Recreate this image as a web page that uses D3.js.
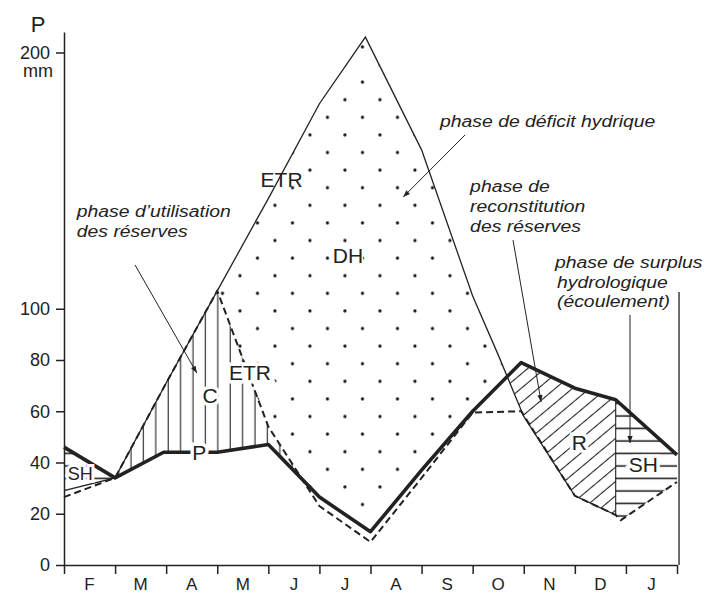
<!DOCTYPE html>
<html>
<head>
<meta charset="utf-8">
<script src="https://cdn.jsdelivr.net/npm/d3@7"></script>
<style>
body { margin: 0; background: #fff; }
svg { display: block; font-family: "Liberation Sans", Arial, sans-serif; }
</style>
</head>
<body>
<svg width="704" height="596"></svg>
<script>
// months of the hydrological year (labels sit between ticks)
var months = ["F", "M", "A", "M", "J", "J", "A", "S", "O", "N", "D", "J"];
var yTicks = [0, 20, 40, 60, 80, 100, 200];

// P : precipitation (thick line), position in months from start of F
var pX = [0, 1, 1.95, 3, 4, 5, 6, 7, 8, 8.95, 10, 10.8, 12];
var pV = [46, 34, 44, 44, 47, 26.5, 13, 37, 60, 79, 69, 64.5, 43];

// ETP : potential evapotranspiration (thin line)
var etpX = [0, 1, 2, 3, 4, 5, 5.9, 7, 8, 8.5, 9, 10, 10.8];
var etpV = [29, 34, 71, 107, 143, 180, 206, 162, 105, 82, 58, 27, 19.5];

// ETR : real evapotranspiration (dashed line)
var etrX = [0, 1, 2, 3, 4, 5, 6, 7, 8, 8.95, 10, 10.8, 10.9, 12];
var etrV = [26.5, 34, 71, 107, 54, 23, 9, 34, 59.5, 60, 27, 19.5, 17.5, 32.4];

var svg = d3.select("svg"),
    x = d3.scaleLinear().domain([0, 12]).range([64, 677]),
    y = d3.scaleLinear().domain([0, 208]).range([565, 32]),
    ink = "#222";

function interp(xs, vs, t) {
  if (t < xs[0]) return vs[0];
  if (t >= xs[xs.length - 1]) return vs[vs.length - 1];
  var i = d3.bisectRight(xs, t);
  var a = xs[i - 1], b = xs[i];
  return vs[i - 1] + (vs[i] - vs[i - 1]) * (t - a) / (b - a);
}
var P = function(t) { return interp(pX, pV, t); },
    ETP = function(t) { return interp(etpX, etpV, t); },
    ETR = function(t) { return interp(etrX, etrV, t); };

// area between two curves, empty where top falls under bottom
function band(top, bot, x0, x1) {
  var ts = d3.range(x0, x1, 0.01).concat([x1]);
  return d3.area()
    .x(function(t) { return x(t); })
    .y0(function(t) { return y(bot(t)); })
    .y1(function(t) { return y(Math.max(top(t), bot(t))); })(ts);
}

var defs = svg.append("defs");

var ph = defs.append("pattern").attr("id", "hatchH")
    .attr("patternUnits", "userSpaceOnUse")
    .attr("x", 0).attr("y", 447.5).attr("width", 10).attr("height", 12.5);
ph.append("path").attr("d", "M0,6H10").attr("stroke", ink).attr("stroke-width", 1.6);

var pv = defs.append("pattern").attr("id", "hatchV")
    .attr("patternUnits", "userSpaceOnUse")
    .attr("x", 125).attr("y", 0).attr("width", 12.4).attr("height", 10);
pv.append("path").attr("d", "M6,0V10").attr("stroke", ink).attr("stroke-width", 1.1);

var pd = defs.append("pattern").attr("id", "hatchD")
    .attr("patternUnits", "userSpaceOnUse")
    .attr("width", 10).attr("height", 11)
    .attr("patternTransform", "rotate(-40)");
pd.append("path").attr("d", "M0,5.5H10").attr("stroke", ink).attr("stroke-width", 1.1);

var pdot = defs.append("pattern").attr("id", "dots")
    .attr("patternUnits", "userSpaceOnUse")
    .attr("x", 240 - 8.75).attr("y", 275.7 - 8.8).attr("width", 35).attr("height", 35.2);
pdot.append("circle").attr("cx", 8.75).attr("cy", 8.8).attr("r", 1.6).attr("fill", "#111");
pdot.append("circle").attr("cx", 26.25).attr("cy", 26.4).attr("r", 1.6).attr("fill", "#111");

defs.append("marker").attr("id", "arrow")
    .attr("viewBox", "-8 -4 9 8").attr("refX", 0).attr("refY", 0)
    .attr("markerWidth", 9).attr("markerHeight", 8)
    .attr("markerUnits", "userSpaceOnUse").attr("orient", "auto")
  .append("path").attr("d", "M0,0L-7,-2.6L-7,2.6Z").attr("fill", ink);

// shaded phases
var fills = svg.append("g");
fills.append("path").attr("d", band(P, ETP, 0, 1)).attr("fill", "url(#hatchH)");
fills.append("path").attr("d", band(ETR, P, 1, 4.6)).attr("fill", "url(#hatchV)");
fills.append("path").attr("d", band(ETP, function(t) { return Math.max(P(t), ETR(t)); }, 2, 9))
    .attr("fill", "url(#dots)");
fills.append("path").attr("d", band(P, ETP, 8.5, 10.8)).attr("fill", "url(#hatchD)");
fills.append("path").attr("d", band(P, ETR, 10.8, 12)).attr("fill", "url(#hatchH)");

// separation R / SH
fills.append("line")
    .attr("x1", x(10.8)).attr("x2", x(10.8))
    .attr("y1", y(P(10.8))).attr("y2", y(ETR(10.8)))
    .attr("stroke", ink).attr("stroke-width", 1.1);

var line = function(xs, vs) {
  return d3.line().x(function(d, i) { return x(xs[i]); }).y(function(d) { return y(d); })(vs);
};

svg.append("path").attr("d", line(etpX, etpV))
    .attr("fill", "none").attr("stroke", ink).attr("stroke-width", 1.3);
svg.append("path").attr("d", line(etrX, etrV))
    .attr("fill", "none").attr("stroke", ink).attr("stroke-width", 2)
    .attr("stroke-dasharray", "7,4");
svg.append("path").attr("d", line(pX, pV))
    .attr("fill", "none").attr("stroke", ink).attr("stroke-width", 3.6)
    .attr("stroke-linejoin", "round");

// axes
var yAxis = svg.append("g")
    .attr("transform", "translate(" + x(0) + ",0)")
    .call(d3.axisLeft(y).tickValues(yTicks).tickSize(8).tickPadding(6).tickSizeOuter(0));
yAxis.attr("font-family", null).attr("font-size", 18);
yAxis.selectAll("path, line").attr("stroke", ink).attr("stroke-width", 1.5);
yAxis.selectAll("text").attr("fill", "#222");

var xAxis = svg.append("g")
    .attr("transform", "translate(0," + y(0) + ")")
    .call(d3.axisBottom(x).tickValues(d3.range(13)).tickSize(9).tickFormat("").tickSizeOuter(0));
xAxis.selectAll("path, line").attr("stroke", ink).attr("stroke-width", 1.5);

svg.selectAll(".month")
    .data(months)
  .enter().append("text")
    .attr("class", "month")
    .attr("x", function(d, i) { return x(i + 0.5); })
    .attr("y", 590)
    .attr("text-anchor", "middle")
    .attr("font-size", 17)
    .attr("fill", "#222")
    .text(function(d) { return d; });

svg.append("text").attr("x", x(0) - 26).attr("y", 32).attr("text-anchor", "middle")
    .attr("font-size", 22).attr("fill", "#222").text("P");
svg.append("text").attr("x", x(0) - 26).attr("y", 77).attr("text-anchor", "middle")
    .attr("font-size", 18).attr("fill", "#222").text("mm");

// right frame
svg.append("line")
    .attr("x1", x(12.04)).attr("x2", x(12.04))
    .attr("y1", y(106.5)).attr("y2", y(0))
    .attr("stroke", ink).attr("stroke-width", 1.3);

// labels inside the plot [text, month, mm, size, halo width]
var labels = [
  ["ETR", 4.26, 147.5, 21, 0],
  ["DH", 5.56, 117.9, 21, 3],
  ["C", 2.86, 63.2, 21, 7],
  ["ETR", 3.64, 72.2, 21, 7],
  ["P", 2.65, 41, 21, 7],
  ["R", 10.09, 44.9, 21, 7],
  ["SH", 11.34, 36.3, 21, 7],
  ["SH", 0.32, 33.2, 18, 6]
];
svg.selectAll(".lab")
    .data(labels)
  .enter().append("text")
    .attr("class", "lab")
    .attr("x", function(d) { return x(d[1]); })
    .attr("y", function(d) { return y(d[2]); })
    .attr("text-anchor", "middle")
    .attr("font-size", function(d) { return d[3]; })
    .attr("fill", "#222")
    .attr("stroke", function(d) { return d[4] ? "#fff" : "none"; })
    .attr("stroke-width", function(d) { return d[4]; })
    .attr("paint-order", "stroke")
    .text(function(d) { return d[0]; });

// phase notes (italic) [text, month, mm]
var notes = [
  ["phase d\u2019utilisation", 0.25, 135.8],
  ["des r\u00e9serves", 0.25, 128],
  ["phase de d\u00e9ficit hydrique", 7.36, 171],
  ["phase de", 7.95, 145.6],
  ["reconstitution", 7.95, 137.8],
  ["des r\u00e9serves", 7.95, 130],
  ["phase de surplus", 9.61, 115.9],
  ["hydrologique", 9.65, 108.1],
  ["(\u00e9coulement)", 9.65, 100.7]
];
svg.selectAll(".note")
    .data(notes)
  .enter().append("text")
    .attr("class", "note")
    .attr("transform", function(d) { return "translate(" + x(d[1]) + "," + y(d[2]) + ") scale(1.14,1)"; })
    .attr("font-size", 17)
    .attr("font-style", "italic")
    .attr("fill", "#222")
    .text(function(d) { return d[0]; });

// pointers [month0, mm0, month1, mm1]
var arrows = [
  [1.39, 117.1, 2.60, 74.9],
  [7.85, 167.8, 6.64, 143.6],
  [8.79, 126.8, 9.34, 63.6],
  [11.08, 97.6, 11.08, 47.6]
];
svg.selectAll(".arrow")
    .data(arrows)
  .enter().append("line")
    .attr("class", "arrow")
    .attr("x1", function(d) { return x(d[0]); })
    .attr("y1", function(d) { return y(d[1]); })
    .attr("x2", function(d) { return x(d[2]); })
    .attr("y2", function(d) { return y(d[3]); })
    .attr("stroke", ink).attr("stroke-width", 1)
    .attr("marker-end", "url(#arrow)");
</script>
</body>
</html>
